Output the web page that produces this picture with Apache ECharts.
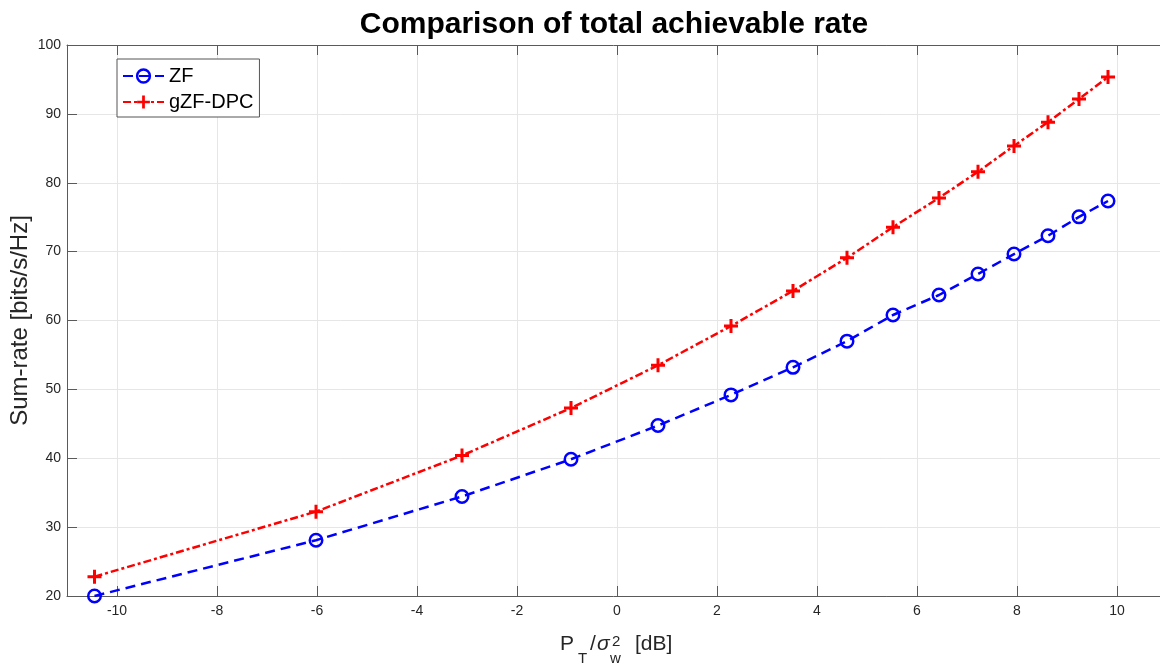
<!DOCTYPE html>
<html>
<head>
<meta charset="utf-8">
<script src="https://cdn.jsdelivr.net/npm/echarts@6/dist/echarts.min.js"></script>
<style>html,body{margin:0;padding:0;background:#fff;}#c{width:1160px;height:668px;}</style>
</head>
<body>
<div id="c"></div>
<script>
// ---- data ----
const snrDb = [-10.45, -6.02, -3.1, -0.92, 0.82, 2.28, 3.52, 4.6, 5.52, 6.44, 7.22, 7.94, 8.62, 9.24, 9.82];
const zfRate = [20.0, 28.1, 34.45, 39.85, 44.75, 49.2, 53.2, 57.0, 60.8, 63.7, 66.75, 69.65, 72.3, 75.05, 77.35];
const gzfRate = [22.8, 32.25, 40.4, 47.3, 53.5, 59.2, 64.3, 69.1, 73.55, 77.8, 81.6, 85.35, 88.8, 92.15, 95.35];
const xTicks = [-10, -8, -6, -4, -2, 0, 2, 4, 6, 8, 10];
const xRange = [-11, 10.86]; // the right part of the axes box is cut off by the picture edge
const yTicks = [20, 30, 40, 50, 60, 70, 80, 90, 100];
const seriesNames = ['ZF', 'gZF-DPC'];
const titleText = 'Comparison of total achievable rate';
const yName = 'Sum-rate [bits/s/Hz]';

const pair = (xs, ys) => xs.map((x, i) => [x, ys[i]]);
const FONT = '"Liberation Sans", Arial, Helvetica, sans-serif';
const plusPath = 'path://M-1.5,-7h3v5.5h5.5v3h-5.5v5.5h-3v-5.5h-5.5v-3h5.5z';
const axisCol = '#5a5a5a';
const txtCol = '#262626';

const chart = echarts.init(document.getElementById('c'), null, {renderer: 'canvas'});
const baseX = {
  type: 'value', min: xRange[0], max: xRange[1],
  axisLine: {show: true, onZero: false, lineStyle: {color: axisCol, width: 1}},
};
chart.setOption({
  animation: false,
  backgroundColor: '#fff',
  title: {
    text: titleText, left: 614, top: 10, textAlign: 'center', padding: 0,
    textStyle: {fontFamily: FONT, fontWeight: 'bold', fontSize: 30, color: '#000'}
  },
  grid: {left: 67, right: 0, top: 45, bottom: 72, containLabel: false, outerBoundsMode: 'none'},
  legend: {
    orient: 'vertical', left: 117, top: 59,
    padding: [7, 6, 5, 5], itemGap: 6, itemWidth: 41, itemHeight: 16,
    borderColor: '#555555', borderWidth: 1, backgroundColor: '#fff',
    textStyle: {fontFamily: FONT, fontSize: 20, color: '#000', lineHeight: 20},
    itemStyle: {borderWidth: 'inherit'},
    data: [
      {name: seriesNames[0]},
      {name: seriesNames[1]}
    ]
  },
  xAxis: [
    Object.assign({}, baseX, {
      position: 'bottom',
      axisTick: {show: true, inside: true, length: 10, lineStyle: {color: axisCol}, customValues: xTicks},
      axisLabel: {show: true, customValues: xTicks, margin: 8, fontFamily: FONT, fontSize: 14, color: txtCol},
      splitLine: {show: true, lineStyle: {color: '#e6e6e6', width: 1}}
    }),
    Object.assign({}, baseX, {
      position: 'top',
      axisTick: {show: true, inside: true, length: 10, lineStyle: {color: axisCol}, customValues: xTicks},
      axisLabel: {show: false},
      splitLine: {show: false}
    })
  ],
  yAxis: [{
    type: 'value', min: yTicks[0], max: yTicks[yTicks.length - 1], interval: 10,
    position: 'left',
    name: yName, nameLocation: 'middle', nameGap: 35, nameMoveOverlap: false,
    nameTextStyle: {fontFamily: FONT, fontSize: 24, color: txtCol},
    axisLine: {show: true, onZero: false, lineStyle: {color: axisCol, width: 1}},
    axisTick: {show: true, inside: true, length: 10, lineStyle: {color: axisCol}},
    axisLabel: {margin: 6, fontFamily: FONT, fontSize: 14, color: txtCol},
    splitLine: {show: true, lineStyle: {color: '#e6e6e6', width: 1}}
  }],
  graphic: [{
    type: 'group', silent: true,
    children: [
      {type: 'text', style: {text: 'P', x: 560, y: 644.5, font: '21px ' + FONT, fill: txtCol, align: 'left', verticalAlign: 'middle'}},
      {type: 'text', style: {text: 'T', x: 578, y: 659, font: '15px ' + FONT, fill: txtCol, align: 'left', verticalAlign: 'middle'}},
      {type: 'text', style: {text: '/', x: 590, y: 644.5, font: '21px ' + FONT, fill: txtCol, align: 'left', verticalAlign: 'middle'}},
      {type: 'text', style: {text: 'σ', x: 597, y: 644.5, font: 'italic 21px ' + FONT, fill: txtCol, align: 'left', verticalAlign: 'middle'}},
      {type: 'text', style: {text: '2', x: 612, y: 641.5, font: '15px ' + FONT, fill: txtCol, align: 'left', verticalAlign: 'middle'}},
      {type: 'text', style: {text: 'w', x: 610, y: 659, font: '15px ' + FONT, fill: txtCol, align: 'left', verticalAlign: 'middle'}},
      {type: 'text', style: {text: '[dB]', x: 635, y: 644.5, font: '21px ' + FONT, fill: txtCol, align: 'left', verticalAlign: 'middle'}}
    ]
  }],
  series: [
    {
      name: seriesNames[0], type: 'line', xAxisIndex: 0, yAxisIndex: 0,
      data: pair(snrDb, zfRate),
      symbol: 'circle', symbolSize: 12.5,
      itemStyle: {color: 'rgba(0,0,0,0)', borderColor: '#0000ff', borderWidth: 2.5},
      lineStyle: {color: '#0000ff', width: 2.5, type: [10, 6]},
      z: 3
    },
    {
      name: seriesNames[1], type: 'line', xAxisIndex: 0, yAxisIndex: 0,
      data: pair(snrDb, gzfRate),
      symbol: plusPath, symbolSize: 14,
      itemStyle: {color: '#ff0000', borderWidth: 0},
      lineStyle: {color: '#ff0000', width: 2.5, type: [8, 3, 3, 3]},
      z: 4
    }
  ]
});
</script>
</body>
</html>
